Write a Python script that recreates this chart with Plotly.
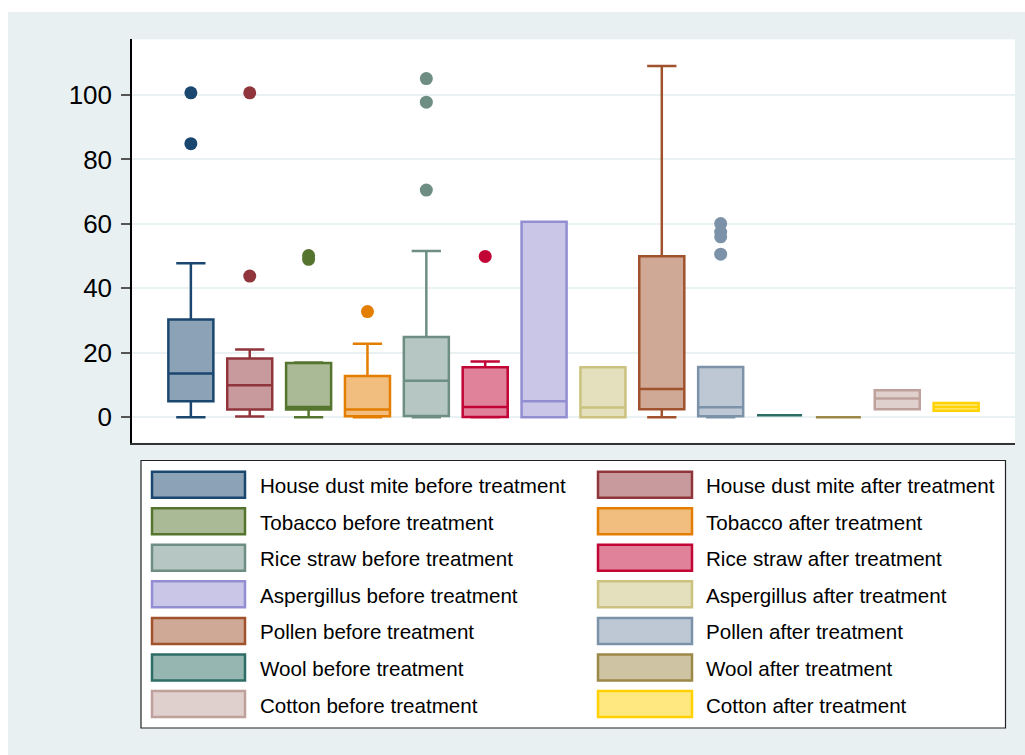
import plotly.graph_objects as go

# Allergen reaction scores: one box per allergen and treatment stage
names = [
    "House dust mite before treatment", "House dust mite after treatment",
    "Tobacco before treatment", "Tobacco after treatment",
    "Rice straw before treatment", "Rice straw after treatment",
    "Aspergillus before treatment", "Aspergillus after treatment",
    "Pollen before treatment", "Pollen after treatment",
    "Wool before treatment", "Wool after treatment",
    "Cotton before treatment", "Cotton after treatment",
]
lower_whisker = [0, 0.2, 0, 0, 0, 0, 0, 0, 0, 0, 0.6, 0, 2.5, 2.0]
q1 = [5.0, 2.4, 2.4, 0.3, 0.4, 0.1, 0, 0, 2.5, 0.3, 0.6, 0, 2.5, 2.0]
median = [13.6, 9.9, 3.2, 2.4, 11.3, 3.2, 5.0, 3.0, 8.8, 3.1, 0.6, 0, 5.8, 3.2]
q3 = [30.3, 18.2, 16.8, 12.8, 24.9, 15.5, 60.7, 15.5, 50.0, 15.6, 0.6, 0, 8.4, 4.4]
upper_whisker = [47.8, 21.0, 17.0, 22.8, 51.6, 17.3, 60.7, 15.5, 109.0, 15.6, 0.6, 0, 8.4, 4.4]
outliers = [
    [100.7, 84.9], [100.7, 43.8], [50.2, 49.0], [32.8],
    [105.1, 97.8, 70.5], [49.9], [], [],
    [], [60.1, 57.5, 56.0, 50.6], [], [], [], [],
]
y_ticks = [0, 20, 40, 60, 80, 100]

# Stata s2color palette
colors = [
    (26, 71, 111), (144, 53, 59), (85, 117, 47), (227, 126, 0),
    (110, 142, 132), (193, 5, 52), (147, 141, 210), (202, 194, 126),
    (160, 82, 45), (123, 146, 168), (45, 109, 102), (156, 136, 71),
    (191, 161, 156), (255, 210, 0),
]

W, H = 1025, 755
FONT = "Liberation Sans, Arial, sans-serif"
BG = "#e8f0f2"


def rgb(c):
    return "rgb(%d,%d,%d)" % c


def tint(c):
    # 50% intensity fill, mixed with white
    return "rgb(%d,%d,%d)" % tuple(round((v + 255) / 2) for v in c)


def px(x):
    return x / W


def py(y):
    return 1 - y / H


fig = go.Figure()

for i, name in enumerate(names):
    c = colors[i]
    fig.add_trace(go.Box(
        x=[i], q1=[q1[i]], median=[median[i]], q3=[q3[i]],
        lowerfence=[lower_whisker[i]], upperfence=[upper_whisker[i]],
        name=name, width=0.765, whiskerwidth=0.65,
        line=dict(color=rgb(c), width=2.5), fillcolor=tint(c),
        boxpoints=False, showlegend=False, hoverinfo="skip",
    ))
    if outliers[i]:
        fig.add_trace(go.Scatter(
            x=[i] * len(outliers[i]), y=outliers[i], mode="markers",
            marker=dict(color=rgb(c), size=13, line=dict(width=0)),
            showlegend=False, hoverinfo="skip",
        ))

shapes = [
    # white strips along the top and left page edges
    dict(type="rect", xref="paper", yref="paper", x0=0, x1=1, y0=py(12), y1=1,
         fillcolor="white", line_width=0, layer="below"),
    dict(type="rect", xref="paper", yref="paper", x0=0, x1=px(8), y0=0, y1=1,
         fillcolor="white", line_width=0, layer="below"),
    # legend frame
    dict(type="rect", xref="paper", yref="paper", x0=px(141), x1=px(1005.5),
         y0=py(728), y1=py(460.5), fillcolor="white",
         line=dict(color="#222222", width=1.2)),
]
annotations = []

col_sym_x = [(152, 245), (598, 692)]
col_txt_x = [258, 704]
row0, row_step, sym_h = 484.7, 36.55, 26
for i, name in enumerate(names):
    col, row = i % 2, i // 2
    cy = row0 + row * row_step
    x0, x1 = col_sym_x[col]
    shapes.append(dict(
        type="rect", xref="paper", yref="paper",
        x0=px(x0), x1=px(x1), y0=py(cy + sym_h / 2), y1=py(cy - sym_h / 2),
        fillcolor=tint(colors[i]), line=dict(color=rgb(colors[i]), width=2.5),
    ))
    annotations.append(dict(
        xref="paper", yref="paper", x=px(col_txt_x[col]), y=py(cy + 1),
        text=name, showarrow=False, xanchor="left", yanchor="middle",
        font=dict(family=FONT, size=20.6, color="black"),
    ))

fig.update_layout(
    width=W, height=H,
    margin=dict(l=0, r=0, t=0, b=0),
    paper_bgcolor=BG, plot_bgcolor="white",
    shapes=shapes, annotations=annotations,
    showlegend=False,
    xaxis=dict(
        domain=[px(132), px(1015)], range=[-1, 14],
        showticklabels=False, ticks="", showgrid=False, zeroline=False,
        showline=True, linecolor="#333333", linewidth=1.5,
    ),
    yaxis=dict(
        domain=[py(442.7), py(39.3)], range=[-7.9, 117.3],
        tickvals=y_ticks, ticks="outside", ticklen=9, tickwidth=1.5,
        tickcolor="#555555", ticklabelstandoff=4,
        tickfont=dict(family=FONT, size=26, color="black"),
        showgrid=True, gridcolor="#e9f1f3", gridwidth=2,
        zeroline=False, showline=True, linecolor="black", linewidth=1.5,
    ),
)

fig.write_html("out.html")
